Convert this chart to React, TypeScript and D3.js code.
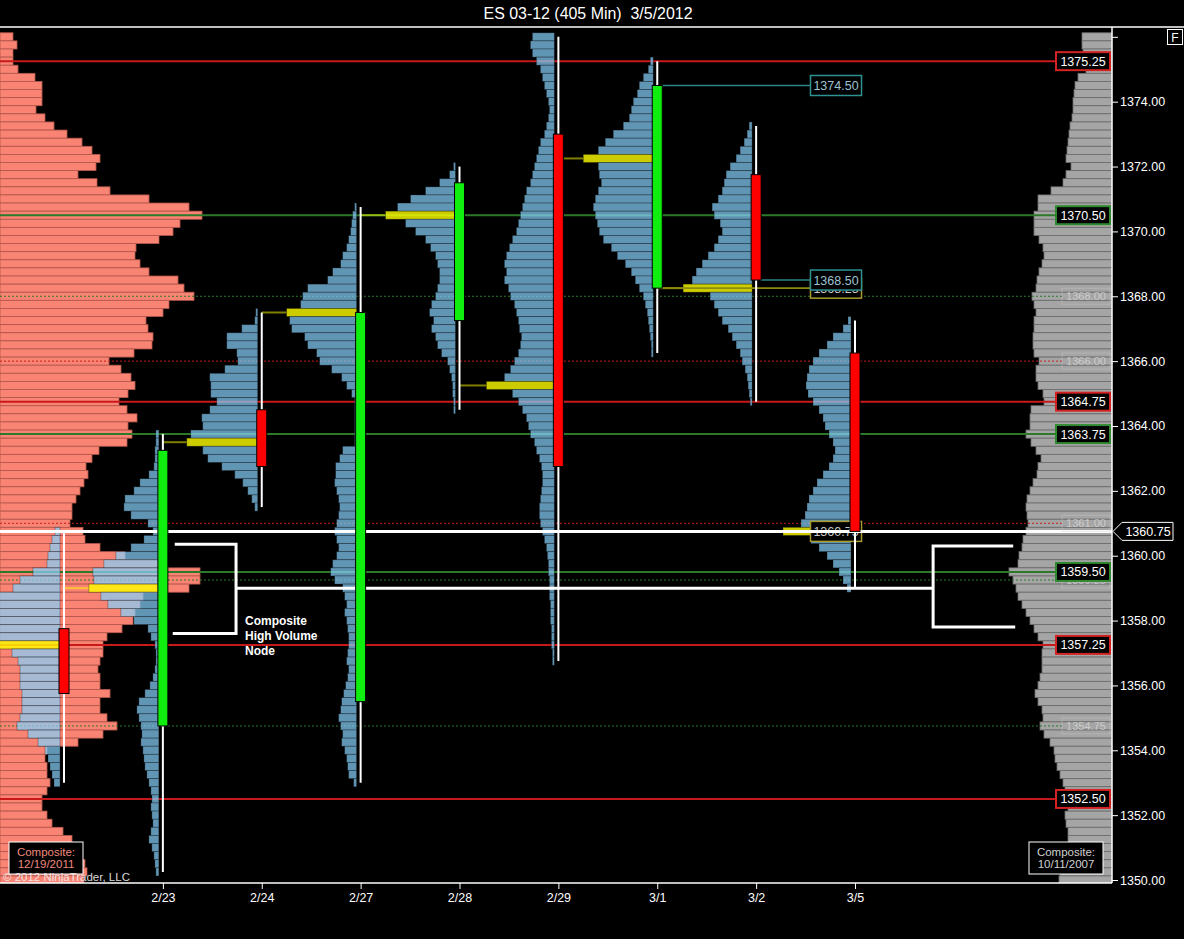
import React, { useRef, useEffect } from 'react'
import * as d3 from 'd3'

// 405 min sessions
const dates = ['2/22', '2/23', '2/24', '2/27', '2/28', '2/29', '3/1', '3/2', '3/5']
const opens = [1357.75, 1354.75, 1364.5, 1355.5, 1367.25, 1373.0, 1368.25, 1371.75, 1366.25]
const highs = [1360.75, 1363.75, 1367.5, 1370.75, 1372.0, 1376.0, 1375.25, 1373.25, 1367.25]
const lows = [1353.0, 1350.25, 1361.5, 1353.0, 1364.5, 1356.75, 1366.25, 1364.75, 1359.0]
const closes = [1355.75, 1363.25, 1362.75, 1367.5, 1371.5, 1362.75, 1374.5, 1368.5, 1360.75]

// volume per 0.25 row, from each session high downwards
const profile0222 = [5, 8, 10, 12, 13, 27, 40, 47, 62, 66, 70, 72, 74, 72, 80, 48, 42, 40, 40, 40, 38, 38, 38, 40, 43, 32, 22, 15, 12, 10, 8, 6]
const profile0223 = [
    3, 3, 4, 4, 5, 10, 19, 25, 34, 35, 28, 11, 6, 15, 28, 43, 55, 66, 65, 70, 58, 51, 38, 25, 11, 8, 4, 3, 3, 4, 6, 9, 14, 20,
    22, 20, 18, 17, 18, 16, 15, 14, 12, 10, 8, 7, 8, 7, 6, 8, 10, 7, 5, 4, 3,
]
const profile0224 = [2, 3, 16, 31, 31, 21, 20, 33, 48, 47, 47, 41, 48, 56, 55, 67, 71, 55, 50, 36, 23, 15, 10, 6, 3]
const profile0227 = [
    2, 4, 5, 6, 8, 10, 14, 16, 24, 29, 49, 54, 56, 70, 67, 65, 52, 49, 40, 37, 25, 15, 10, 5, 2, 2, 2, 2, 2, 2, 14, 17, 21, 21,
    22, 20, 18, 17, 18, 20, 22, 20, 18, 20, 24, 26, 22, 14, 12, 10, 12, 10, 9, 8, 8, 9, 10, 8, 9, 11, 13, 15, 16, 18, 16, 14,
    15, 12, 10, 9, 8, 3,
]
const profile0228 = [2, 6, 16, 30, 45, 58, 70, 50, 40, 30, 25, 20, 18, 16, 16, 18, 20, 24, 26, 22, 24, 20, 18, 14, 8, 6, 4, 3, 3, 2, 2]
const profile0229 = [
    22, 24, 22, 18, 14, 12, 10, 8, 6, 5, 6, 8, 10, 14, 16, 18, 20, 22, 24, 28, 30, 32, 34, 36, 38, 42, 45, 48, 50, 48, 50, 46,
    44, 40, 38, 36, 35, 33, 34, 36, 40, 44, 50, 68, 42, 36, 32, 28, 26, 24, 20, 18, 15, 13, 12, 12, 13, 14, 15, 15, 14, 12, 10,
    8, 7, 6, 6, 5, 5, 5, 4, 4, 4, 3, 3, 3, 2, 2,
]
const profile0301 = [
    3, 5, 10, 14, 16, 20, 22, 24, 30, 40, 48, 55, 70, 55, 54, 52, 55, 58, 60, 58, 56, 54, 50, 42, 36, 28, 22, 18, 14, 10, 8, 6,
    5, 4, 3, 2, 2,
]
const profile0302 = [
    3, 5, 8, 12, 16, 22, 26, 28, 30, 34, 40, 38, 32, 30, 34, 38, 44, 50, 56, 60, 69, 42, 38, 34, 30, 24, 20, 16, 12, 10, 7, 5,
    4, 3, 2,
]
const profile0305 = [
    3, 8, 18, 24, 32, 38, 42, 44, 45, 43, 38, 32, 28, 26, 22, 18, 16, 18, 22, 28, 34, 38, 42, 44, 46, 50, 68, 40, 32, 24, 18,
    12, 8, 4,
]
const dailyProfiles = [profile0222, profile0223, profile0224, profile0227, profile0228, profile0229, profile0301, profile0302, profile0305]

// composites, 1376.00 down to 1350.00
const compositeTop = 1376.0
const compositeLeft = [
    13, 17, 13, 13, 18, 35, 42, 42, 42, 36, 45, 54, 67, 82, 92, 100, 96, 78, 97, 110, 149, 189, 202, 180, 173, 159, 136, 135,
    140, 149, 178, 184, 194, 169, 163, 146, 148, 153, 152, 134, 109, 121, 131, 135, 128, 119, 127, 137, 128, 132, 127, 99, 92,
    86, 88, 84, 80, 76, 72, 72, 70, 83, 85, 100, 125, 160, 200, 200, 189, 143, 140, 135, 133, 122, 107, 103, 103, 100, 98, 100,
    100, 110, 100, 100, 107, 117, 103, 78, 47, 45, 47, 47, 50, 47, 42, 42, 47, 52, 63, 72, 68, 80, 85, 87, 84,
]
const compositeRight = [
    30, 30, 29, 28, 26, 34, 37, 38, 39, 39, 40, 42, 43, 44, 45, 46, 41, 46, 49, 61, 74, 74, 78, 78, 78, 73, 69, 68, 70, 73, 75,
    76, 80, 78, 76, 78, 78, 79, 79, 78, 73, 76, 76, 74, 69, 68, 81, 82, 82, 86, 81, 76, 71, 74, 75, 79, 82, 85, 86, 85, 84, 86,
    89, 90, 93, 94, 103, 99, 96, 94, 90, 86, 82, 78, 74, 69, 70, 70, 70, 72, 74, 77, 74, 70, 69, 72, 68, 62, 58, 57, 55, 52, 49,
    47, 46, 44, 47, 46, 44, 44, 46, 49, 51, 52, 53,
]
const compositeLeftLabel = ['Composite:', '12/19/2011']
const compositeRightLabel = ['Composite:', '10/11/2007']

// horizontal levels
const levelPrices = [1375.25, 1370.5, 1364.75, 1363.75, 1359.5, 1357.25, 1352.5]
const levelColors = ['red', 'green', 'red', 'green', 'green', 'red', 'red']
const faintPrices = [1368.0, 1366.0, 1361.0, 1359.25, 1354.75]
const faintColors = ['green', 'red', 'red', 'green', 'green']
const lastPrice = 1360.75

// rays from a session to the middle labels
const rayPrices = [1374.5, 1368.25, 1368.5, 1360.75]
const rayFrom = ['3/1', '3/1', '3/2', '3/2']
const rayColors = ['teal', 'olive', 'teal', 'olive']

const priceTicks = [1350, 1352, 1354, 1356, 1358, 1360, 1362, 1364, 1366, 1368, 1370, 1372, 1374, 1376]

// hand drawn note (bar index, price)
const hvnPrice = 1359.0
const bracketLeft = { x0: 1.12, x1: 1.74, top: 1360.35, bottom: 1357.6 }
const bracketRight = { x0: 8.79, x1: 9.6, top: 1360.3, bottom: 1357.8 }
const noteLines = ['Composite', 'High Volume', 'Node']

const TICK = 0.25
const W = 1184
const H = 939
const PLOT = { left: 0, right: 1112, top: 27, bottom: 883 }
const FONT = "'Liberation Sans', Arial, Helvetica, sans-serif"
const PALETTE: Record<string, { line: string; box: string; text: string }> = {
    red: { line: '#c81a1a', box: '#d42222', text: '#ffffff' },
    green: { line: '#2b7a2b', box: '#2f8a2f', text: '#ffffff' },
    teal: { line: '#2a8484', box: '#2e9292', text: '#9cc2d2' },
    olive: { line: '#8c8c10', box: '#a89a2c', text: '#c8c8c8' },
}

const rowsOf = (top: number, vols: number[]) => vols.map((v, i) => ({ price: top - i * TICK, v }))

export default function App() {
    const svgRef = useRef<SVGSVGElement>(null)

    useEffect(() => {
        if (!svgRef.current) return
        const svg = d3.select(svgRef.current)
        svg.selectAll('*').remove()

        const y = d3.scaleLinear().domain([1350, 1374]).range([880, 101.7])
        const x = d3.scalePoint<string>().domain(dates).range([64, 855])
        const step = x.step()
        const xAt = (i: number) => x(dates[0])! + i * step
        const vol = d3.scaleLinear().domain([0, 100]).range([0, 100])
        const rowH = y(1350) - y(1350 + TICK)

        svg.append('rect').attr('width', W).attr('height', H).attr('fill', '#000')
        svg.append('defs')
            .append('clipPath')
            .attr('id', 'plot-clip')
            .append('rect')
            .attr('x', PLOT.left)
            .attr('y', PLOT.top)
            .attr('width', PLOT.right - PLOT.left)
            .attr('height', PLOT.bottom - PLOT.top)

        const g = svg.append('g').attr('clip-path', 'url(#plot-clip)')

        // composite profiles
        g.append('g')
            .selectAll('rect')
            .data(rowsOf(compositeTop, compositeLeft))
            .join('rect')
            .attr('x', PLOT.left)
            .attr('y', (d) => y(d.price) - rowH / 2)
            .attr('width', (d) => vol(d.v))
            .attr('height', rowH)
            .attr('fill', '#f98474')
            .attr('stroke', '#b4574b')
            .attr('stroke-width', 0.8)

        g.append('g')
            .selectAll('rect')
            .data(rowsOf(compositeTop, compositeRight))
            .join('rect')
            .attr('x', (d) => PLOT.right - vol(d.v))
            .attr('y', (d) => y(d.price) - rowH / 2)
            .attr('width', (d) => vol(d.v))
            .attr('height', rowH)
            .attr('fill', '#a5a5a5')
            .attr('stroke', '#6c6c6c')
            .attr('stroke-width', 0.8)

        // levels
        faintPrices.forEach((p, i) => {
            g.append('line')
                .attr('x1', PLOT.left)
                .attr('x2', PLOT.right - 50)
                .attr('y1', y(p))
                .attr('y2', y(p))
                .attr('stroke', PALETTE[faintColors[i]].line)
                .attr('stroke-width', 1)
                .attr('stroke-dasharray', '2,2')
        })
        levelPrices.forEach((p, i) => {
            g.append('line')
                .attr('x1', PLOT.left)
                .attr('x2', PLOT.right - 57)
                .attr('y1', y(p))
                .attr('y2', y(p))
                .attr('stroke', PALETTE[levelColors[i]].line)
                .attr('stroke-width', 2)
        })

        // session profiles
        dailyProfiles.forEach((vols, i) => {
            const rows = rowsOf(highs[i], vols)
            const poc = rows[d3.maxIndex(vols)]
            const right = x(dates[i])! - 4
            const pg = g.append('g')
            if (i > 0) {
                pg.append('line')
                    .attr('x1', x(dates[i - 1])!)
                    .attr('x2', right - vol(poc.v))
                    .attr('y1', y(poc.price))
                    .attr('y2', y(poc.price))
                    .attr('stroke', '#ffff00')
                    .attr('stroke-opacity', 0.5)
                    .attr('stroke-width', 2)
            }
            pg.selectAll('rect')
                .data(rows)
                .join('rect')
                .attr('x', (d) => right - vol(d.v))
                .attr('y', (d) => y(d.price) - rowH / 2)
                .attr('width', (d) => vol(d.v))
                .attr('height', rowH)
                .attr('fill', (d) => (d === poc ? '#ffff00' : '#87cefa'))
                .attr('fill-opacity', (d) => (d === poc ? 0.8 : 0.72))
                .attr('stroke', 'rgba(0,0,0,0.35)')
                .attr('stroke-width', 0.8)
        })

        // rays with labels
        const rayBoxX = xAt(7.55)
        rayPrices.forEach((p, i) => {
            const c = PALETTE[rayColors[i]]
            g.append('line')
                .attr('x1', x(rayFrom[i])! + 4)
                .attr('x2', rayBoxX)
                .attr('y1', y(p))
                .attr('y2', y(p))
                .attr('stroke', c.line)
                .attr('stroke-width', 1.6)
            g.append('rect')
                .attr('x', rayBoxX)
                .attr('y', y(p) - 10)
                .attr('width', 51)
                .attr('height', 20)
                .attr('fill', '#000')
                .attr('stroke', c.box)
                .attr('stroke-width', 1.5)
            g.append('text')
                .attr('x', rayBoxX + 25.5)
                .attr('y', y(p) + 4.5)
                .attr('text-anchor', 'middle')
                .attr('font-family', FONT)
                .attr('font-size', 12.5)
                .attr('fill', c.text)
                .text(p.toFixed(2))
        })

        // note: bracket + HVN line
        const white = g.append('g').attr('stroke', '#fff').attr('stroke-width', 3).attr('fill', 'none')
        white
            .append('path')
            .attr(
                'd',
                `M${xAt(bracketLeft.x0)},${y(bracketLeft.top)}H${xAt(bracketLeft.x1)}V${y(bracketLeft.bottom)}H${xAt(bracketLeft.x0) - 2}`,
            )
        white
            .append('path')
            .attr(
                'd',
                `M${xAt(bracketRight.x1)},${y(bracketRight.top)}H${xAt(bracketRight.x0)}V${y(bracketRight.bottom)}H${xAt(bracketRight.x1) + 2}`,
            )
        white
            .append('line')
            .attr('x1', xAt(bracketLeft.x1))
            .attr('x2', xAt(bracketRight.x0))
            .attr('y1', y(hvnPrice))
            .attr('y2', y(hvnPrice))
        white
            .append('line')
            .attr('x1', PLOT.left)
            .attr('x2', PLOT.right)
            .attr('y1', y(lastPrice))
            .attr('y2', y(lastPrice))

        // candles
        const candles = g.append('g')
        dates.forEach((d, i) => {
            const cx = x(d)!
            const up = closes[i] >= opens[i]
            candles
                .append('line')
                .attr('x1', cx)
                .attr('x2', cx)
                .attr('y1', y(highs[i]))
                .attr('y2', y(lows[i]))
                .attr('stroke', '#fff')
                .attr('stroke-width', 2)
            candles
                .append('rect')
                .attr('x', cx - 5)
                .attr('y', y(Math.max(opens[i], closes[i])))
                .attr('width', 10)
                .attr('height', Math.abs(y(opens[i]) - y(closes[i])))
                .attr('fill', up ? '#10ee10' : '#ff0000')
                .attr('stroke', '#000')
                .attr('stroke-width', 1)
        })

        // frame
        svg.append('line').attr('x1', 0).attr('x2', W).attr('y1', PLOT.top).attr('y2', PLOT.top).attr('stroke', '#fff').attr('stroke-width', 1.5)
        svg.append('line').attr('x1', PLOT.right).attr('x2', PLOT.right).attr('y1', PLOT.top).attr('y2', PLOT.bottom).attr('stroke', '#fff').attr('stroke-width', 1.5)
        svg.append('line').attr('x1', PLOT.left).attr('x2', PLOT.right).attr('y1', PLOT.bottom).attr('y2', PLOT.bottom).attr('stroke', '#fff').attr('stroke-width', 1.5)

        // price axis
        const yAxis = d3
            .axisRight(y)
            .tickValues(priceTicks)
            .tickFormat((d) => (+d === 1376 ? '' : (+d).toFixed(2)))
            .tickSize(6)
            .tickSizeOuter(0)
            .tickPadding(2)
        const ya = svg.append('g').attr('transform', `translate(${PLOT.right},0)`).call(yAxis)
        ya.select('.domain').remove()
        ya.selectAll('line').attr('stroke', '#fff')
        ya.selectAll('text').attr('fill', '#fff').attr('font-family', FONT).attr('font-size', 12.5)

        // date axis
        const xAxis = d3.axisBottom(x).tickValues(dates.slice(1)).tickSize(6).tickSizeOuter(0).tickPadding(4)
        const xa = svg.append('g').attr('transform', `translate(0,${PLOT.bottom})`).call(xAxis)
        xa.select('.domain').remove()
        xa.selectAll('line').attr('stroke', '#fff')
        xa.selectAll('text').attr('fill', '#fff').attr('font-family', FONT).attr('font-size', 12.5)

        // level labels on the right
        faintPrices.forEach((p) => {
            svg.append('rect')
                .attr('x', PLOT.right - 50)
                .attr('y', y(p) - 8)
                .attr('width', 48)
                .attr('height', 16)
                .attr('fill', 'none')
                .attr('stroke', '#c8c8c8')
                .attr('stroke-opacity', 0.45)
            svg.append('text')
                .attr('x', PLOT.right - 26)
                .attr('y', y(p) + 4)
                .attr('text-anchor', 'middle')
                .attr('font-family', FONT)
                .attr('font-size', 11)
                .attr('fill', '#e8e8e8')
                .attr('fill-opacity', 0.6)
                .text(p.toFixed(2))
        })
        levelPrices.forEach((p, i) => {
            svg.append('rect')
                .attr('x', PLOT.right - 56)
                .attr('y', y(p) - 9)
                .attr('width', 54)
                .attr('height', 18)
                .attr('fill', '#000')
                .attr('stroke', PALETTE[levelColors[i]].box)
                .attr('stroke-width', 2)
            svg.append('text')
                .attr('x', PLOT.right - 29)
                .attr('y', y(p) + 4.5)
                .attr('text-anchor', 'middle')
                .attr('font-family', FONT)
                .attr('font-size', 12.5)
                .attr('fill', '#fff')
                .text(p.toFixed(2))
        })

        // last price marker
        const ly = y(lastPrice)
        svg.append('path')
            .attr('d', `M${PLOT.right + 1},${ly}L${PLOT.right + 10},${ly - 9}H${PLOT.right + 61}V${ly + 9}H${PLOT.right + 10}Z`)
            .attr('fill', '#000')
            .attr('stroke', '#fff')
            .attr('stroke-width', 1)
        svg.append('text')
            .attr('x', PLOT.right + 36)
            .attr('y', ly + 4.5)
            .attr('text-anchor', 'middle')
            .attr('font-family', FONT)
            .attr('font-size', 12.5)
            .attr('fill', '#fff')
            .text(lastPrice.toFixed(2))

        // note text
        noteLines.forEach((t, i) => {
            svg.append('text')
                .attr('x', xAt(bracketLeft.x1) + 9)
                .attr('y', y(bracketLeft.bottom) - 9 + i * 15)
                .attr('font-family', FONT)
                .attr('font-size', 12)
                .attr('font-weight', 'bold')
                .attr('fill', '#fff')
                .text(t)
        })

        // composite tags
        const tag = (cx: number, lines: string[], color: string) => {
            svg.append('rect')
                .attr('x', cx - 37)
                .attr('y', 842)
                .attr('width', 74)
                .attr('height', 32)
                .attr('fill', '#000')
                .attr('stroke', '#fff')
                .attr('stroke-width', 1)
            lines.forEach((t, i) => {
                svg.append('text')
                    .attr('x', cx)
                    .attr('y', 856 + i * 12)
                    .attr('text-anchor', 'middle')
                    .attr('font-family', FONT)
                    .attr('font-size', 11.5)
                    .attr('fill', color)
                    .text(t)
            })
        }
        tag(46, compositeLeftLabel, '#f08a7c')
        tag(1066, compositeRightLabel, '#d0d0d0')

        svg.append('text')
            .attr('x', 3)
            .attr('y', 881)
            .attr('font-family', FONT)
            .attr('font-size', 11.5)
            .attr('fill', '#f0f0f0')
            .attr('fill-opacity', 0.92)
            .text('© 2012 NinjaTrader, LLC')

        // title and F button
        svg.append('text')
            .attr('x', 588)
            .attr('y', 19)
            .attr('text-anchor', 'middle')
            .attr('font-family', "'Liberation Sans Narrow', 'Arial Narrow', " + FONT)
            .attr('font-size', 16)
            .attr('fill', '#fff')
            .attr('textLength', 209)
            .attr('lengthAdjust', 'spacingAndGlyphs')
            .style('white-space', 'pre')
            .text('ES 03-12 (405 Min)  3/5/2012')
        svg.append('rect')
            .attr('x', 1167.5)
            .attr('y', 29.5)
            .attr('width', 15)
            .attr('height', 15)
            .attr('fill', '#000')
            .attr('stroke', '#fff')
        svg.append('text')
            .attr('x', 1175)
            .attr('y', 41.5)
            .attr('text-anchor', 'middle')
            .attr('font-family', FONT)
            .attr('font-size', 12)
            .attr('fill', '#fff')
            .text('F')
    }, [])

    return (
        <div style={{ position: 'absolute', left: 0, top: 0, width: W, height: H, background: '#000' }}>
            <svg ref={svgRef} width={W} height={H} style={{ display: 'block' }} />
        </div>
    )
}
